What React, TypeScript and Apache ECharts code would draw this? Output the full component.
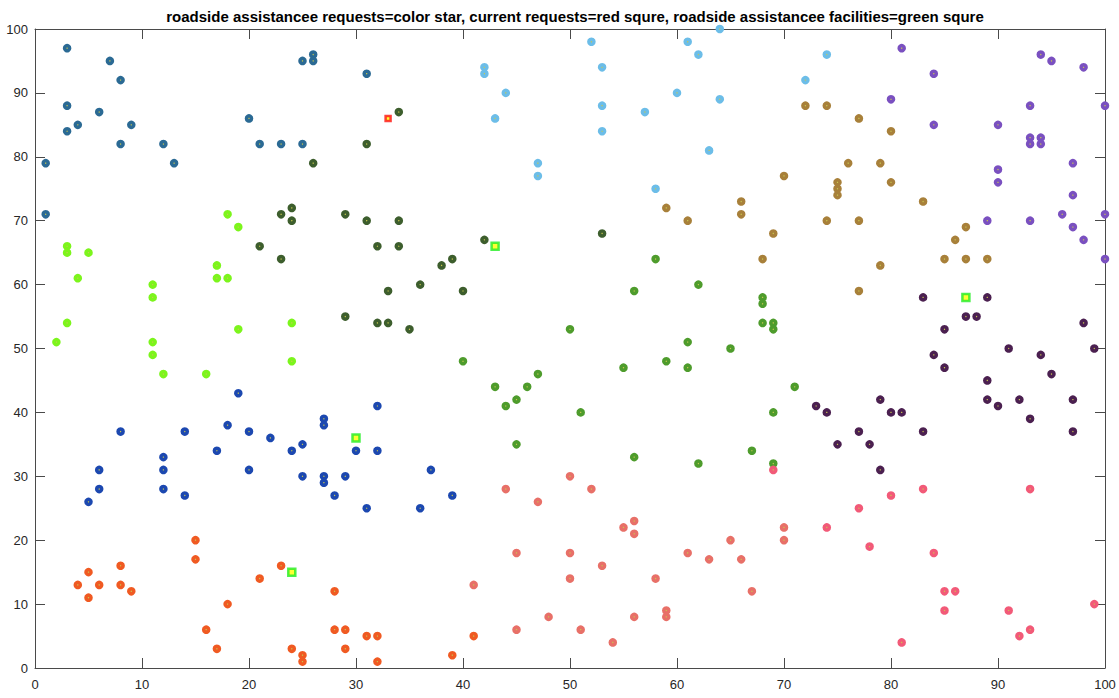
import React, { useEffect, useRef } from "react";
import * as echarts from "echarts";

const TITLE =
  "roadside assistancee requests=color star, current requests=red squre, roadside assistancee facilities=green squre";

const tealRequests = [
  [3, 97], [7, 95], [8, 92], [3, 88], [6, 87], [4, 85], [3, 84], [9, 85], [8, 82], [12, 82],
  [13, 79], [1, 79], [1, 71], [20, 86], [21, 82], [23, 82], [25, 82], [25, 95], [26, 96], [26, 95], [31, 93],
];
const darkGreenRequests = [
  [34, 87], [31, 82], [26, 79], [29, 71], [31, 70], [34, 70], [32, 66], [34, 66], [42, 67], [23, 71],
  [24, 72], [24, 70], [21, 66], [23, 64], [39, 64], [38, 63], [33, 59], [36, 60], [40, 59], [29, 55],
  [32, 54], [33, 54], [35, 53], [53, 68],
];
const limeRequests = [
  [18, 71], [19, 69], [3, 66], [3, 65], [5, 65], [4, 61], [11, 60], [11, 58], [17, 63], [17, 61],
  [18, 61], [3, 54], [2, 51], [11, 51], [11, 49], [12, 46], [16, 46], [19, 53], [24, 54], [24, 48],
];
const blueRequests = [
  [19, 43], [8, 37], [14, 37], [18, 38], [20, 37], [22, 36], [17, 34], [24, 34], [25, 35], [12, 33],
  [6, 31], [12, 31], [20, 31], [6, 28], [12, 28], [5, 26], [14, 27], [25, 30], [32, 41], [27, 39],
  [27, 38], [30, 34], [32, 34], [27, 30], [27, 29], [29, 30], [28, 27], [37, 31], [39, 27], [31, 25], [36, 25],
];
const orangeRequests = [
  [15, 20], [15, 17], [8, 16], [5, 15], [4, 13], [6, 13], [8, 13], [9, 12], [5, 11], [23, 16],
  [21, 14], [18, 10], [16, 6], [17, 3], [24, 3], [25, 2], [25, 1], [28, 12], [28, 6], [29, 6],
  [31, 5], [32, 5], [29, 3], [32, 1], [39, 2], [41, 5],
];
const skyRequests = [
  [42, 94], [42, 93], [44, 90], [43, 86], [47, 79], [47, 77], [52, 98], [61, 98], [64, 100], [62, 96],
  [53, 94], [74, 96], [72, 92], [60, 90], [64, 89], [53, 88], [57, 87], [53, 84], [63, 81], [58, 75],
];
const greenRequests = [
  [58, 64], [56, 59], [62, 60], [68, 58], [68, 57], [68, 54], [69, 54], [69, 53], [50, 53], [61, 51],
  [65, 50], [59, 48], [55, 47], [61, 47], [71, 44], [51, 40], [69, 40], [67, 34], [56, 33], [62, 32],
  [69, 32], [40, 48], [47, 46], [43, 44], [46, 44], [45, 42], [44, 41], [45, 35],
];
const brownRequests = [
  [72, 88], [74, 88], [76, 79], [70, 77], [75, 76], [75, 75], [75, 74], [66, 73], [66, 71], [59, 72],
  [61, 70], [74, 70], [69, 68], [77, 86], [80, 84], [79, 79], [80, 76], [83, 73], [77, 70], [87, 69],
  [86, 67], [85, 64], [87, 64], [89, 64], [79, 63], [77, 59], [68, 64],
];
const purpleRequests = [
  [81, 97], [94, 96], [95, 95], [98, 94], [84, 93], [80, 89], [93, 88], [100, 88], [84, 85], [90, 85],
  [93, 83], [93, 82], [94, 83], [94, 82], [97, 79], [90, 78], [90, 76], [97, 74], [96, 71], [100, 71],
  [89, 70], [93, 70], [97, 69], [98, 67], [100, 64],
];
const darkPurpleRequests = [
  [83, 58], [89, 58], [87, 55], [88, 55], [85, 53], [98, 54], [91, 50], [99, 50], [84, 49], [94, 49],
  [85, 47], [95, 46], [89, 45], [79, 42], [89, 42], [90, 41], [92, 42], [97, 42], [80, 40], [81, 40],
  [93, 39], [77, 37], [83, 37], [97, 37], [78, 35], [75, 35], [73, 41], [74, 40], [79, 31],
];
const salmonRequests = [
  [44, 28], [47, 26], [50, 30], [45, 18], [50, 18], [50, 14], [41, 13], [48, 8], [45, 6], [51, 6],
  [52, 28], [55, 22], [56, 23], [56, 21], [65, 20], [70, 22], [70, 20], [61, 18], [63, 17], [66, 17],
  [53, 16], [58, 14], [67, 12], [59, 9], [59, 8], [56, 8], [54, 4],
];
const pinkRequests = [
  [69, 31], [74, 22], [83, 28], [93, 28], [80, 27], [77, 25], [78, 19], [84, 18], [85, 12], [86, 12],
  [85, 9], [91, 9], [99, 10], [93, 6], [92, 5], [81, 4],
];

const clusters = [
  tealRequests, darkGreenRequests, limeRequests, blueRequests, orangeRequests, skyRequests,
  greenRequests, brownRequests, purpleRequests, darkPurpleRequests, salmonRequests, pinkRequests,
];
const clusterColors = [
  "#2b6a94", "#3d5e2d", "#7cf51c", "#1c48b0", "#f05a22", "#6cbde8",
  "#4e9c2c", "#a8803a", "#7a50c0", "#4b2050", "#e87068", "#f25a78",
];

const facilities = [[30, 36], [24, 15], [43, 66], [87, 58]];
const currentRequests = [[33, 86]];

export default function App() {
  const ref = useRef<HTMLDivElement>(null);
  useEffect(() => {
    document.body.style.margin = "0";
    if (!ref.current) return;
    const chart = echarts.init(ref.current, undefined, { renderer: "svg" });
    const axisColor = "#4a4a4a";
    const labelStyle = { color: "#262626", fontSize: 13, fontFamily: "Liberation Sans, Arial, sans-serif" };
    const series: any[] = clusters.map((pts, i) => ({
      type: "scatter",
      data: pts,
      symbol: "circle",
      symbolSize: 5,
      clip: false,
      itemStyle: { color: "#c8c850", borderColor: clusterColors[i], borderWidth: 3.6, opacity: 1 },
    }));
    series.push({
      type: "scatter",
      data: facilities,
      symbol: "rect",
      symbolSize: 7,
      clip: false,
      z: 5,
      itemStyle: { color: "#ffff00", borderColor: "#22ee22", borderWidth: 2.5 },
    });
    series.push({
      type: "scatter",
      data: currentRequests,
      symbol: "rect",
      symbolSize: 5,
      clip: false,
      z: 5,
      itemStyle: { color: "#ffff00", borderColor: "#ff1010", borderWidth: 2.5 },
    });
    const baseAxis = {
      type: "value",
      min: 0,
      max: 100,
      interval: 10,
      splitLine: { show: false },
      axisLine: { show: true, onZero: false, lineStyle: { color: axisColor, width: 1 } },
      axisTick: { show: true, inside: true, length: 10, lineStyle: { color: axisColor } },
    };
    chart.setOption({
      animation: false,
      backgroundColor: "#ffffff",
      title: {
        text: TITLE,
        left: 570,
        top: 4,
        textAlign: "center",
        textStyle: { fontSize: 15, fontWeight: "bold", color: "#000", fontFamily: "Liberation Sans, Arial, sans-serif" },
      },
      grid: { left: 35, right: 14, top: 29, bottom: 30, containLabel: false },
      xAxis: [
        { ...baseAxis, position: "bottom", axisLabel: { ...labelStyle, margin: 10 } },
        { ...baseAxis, position: "top", axisLabel: { show: false } },
      ],
      yAxis: [
        { ...baseAxis, position: "left", axisLabel: { ...labelStyle, margin: 7 } },
        { ...baseAxis, position: "right", axisLabel: { show: false } },
      ],
      series,
    });
    return () => chart.dispose();
  }, []);
  return <div ref={ref} style={{ width: 1119, height: 698 }} />;
}
